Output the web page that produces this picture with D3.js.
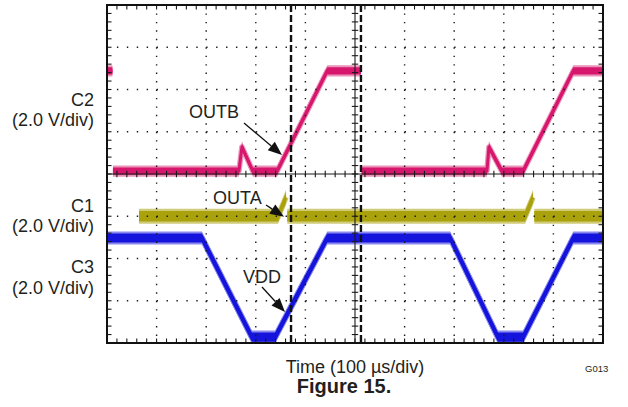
<!DOCTYPE html>
<html><head><meta charset="utf-8">
<script src="https://cdn.jsdelivr.net/npm/d3@7"></script>
<style>
body{margin:0;background:#fff}
svg{display:block}
text{font-family:"Liberation Sans",Arial,Helvetica,sans-serif;fill:#231f20}
</style>
</head><body>
<svg id="c" width="628" height="407"></svg>
<script>
// ---- settings / data ----
const timePerDiv = 100;          // µs/div
const voltsPerDiv = 2.0;         // V/div (all channels)
const nDivX = 10, nDivY = 8, minorPerDiv = 5;

// C2 : OUTB   (null = fast edge not captured by the scope)
const c2Time  = [0, 11, 11.5, 12, 266, 272, 294, 343, 444, 512, 512.8, 513.5, 766, 770, 796, 839, 940, 1000];
const c2Volts = [4.88, 4.88, null, 0.14, 0.14, 1.28, 0.14, 0.14, 4.88, 4.88, null, 0.14, 0.14, 1.28, 0.14, 0.14, 4.88, 4.88];
// C1 : OUTA
const c1Time  = [64.5, 345, 361, 362, 363.5, 843, 859, 860, 861.5, 1000];
const c1Volts = [0, 0, 0.89, null, 0, 0, 0.89, null, 0, 0];
// C3 : VDD
const c3Time  = [0, 191.5, 292, 339, 444, 692, 788, 839, 940, 1000];
const c3Volts = [4.97, 4.97, 0.28, 0.28, 4.97, 4.97, 0.28, 0.28, 4.97, 4.97];

// channel ground offsets in divisions from centre
const channelNames   = ["C2", "C1", "C3"];
const channelOffsets = [0, -1, -4];
const scaleLabel = "(2.0 V/div)";

// cursors (µs)
const cursorTimes = [371, 512];

// annotations: text anchor (µs, div), arrow start, arrow tip
const annoLabels = ["OUTB", "OUTA", "VDD"];
const annoText   = [[165.3, 1.325], [213.7, -0.71], [274.2, -2.58]];
const annoFrom   = [[276.2, 1.207], [320.6, -0.734], [312.5, -2.675]];
const annoTip    = [[352.8, 0.45], [356.9, -1.012], [358.9, -3.266]];

const xTitle = "Time (100 \u00b5s/div)";
const figTitle = "Figure 15.";
const figId = "G013";

// ---- drawing ----
const svg = d3.select("#c");
const L = 107, R = 603, T = 5, B = 343;
const x = d3.scaleLinear().domain([0, timePerDiv * nDivX]).range([L, R]);
const y = d3.scaleLinear().domain([-nDivY / 2, nDivY / 2]).range([B, T]);

svg.append("rect").attr("width", 628).attr("height", 407).attr("fill", "#fff");

const traces = [
  {t: c2Time, v: c2Volts, off: channelOffsets[0], col: "#d6176d", fuzz: "#eb93b9", hIn: 3.6, hOut: 5.6, lw: 3},
  {t: c1Time, v: c1Volts, off: channelOffsets[1], col: "#aaa20c", fuzz: "#d0cb78", hIn: 5.2, hOut: 7.6, lw: 3},
  {t: c3Time, v: c3Volts, off: channelOffsets[2], col: "#1414dc", fuzz: "#8a8aee", hIn: 4.6, hOut: 6.6, lw: 3.5}
];
const gTr = svg.append("g");
traces.forEach(tr => {
  const pts = tr.t.map((t, i) => [t, tr.v[i] == null ? null : tr.off + tr.v[i] / voltsPerDiv]);
  const def = d => d[1] != null;
  const aOut = d3.area().defined(def).x(d => x(d[0])).y0(d => y(d[1]) - tr.hOut).y1(d => y(d[1]) + tr.hOut);
  const aIn = d3.area().defined(def).x(d => x(d[0])).y0(d => y(d[1]) - tr.hIn).y1(d => y(d[1]) + tr.hIn);
  const ln = d3.line().defined(def).x(d => x(d[0])).y(d => y(d[1]));
  gTr.append("path").attr("d", aOut(pts)).attr("fill", tr.fuzz);
  gTr.append("path").attr("d", ln(pts)).attr("fill", "none").attr("stroke", tr.fuzz).attr("stroke-width", tr.lw + 2.5).attr("stroke-linejoin", "round");
  gTr.append("path").attr("d", aIn(pts)).attr("fill", tr.col);
  gTr.append("path").attr("d", ln(pts)).attr("fill", "none").attr("stroke", tr.col).attr("stroke-width", tr.lw).attr("stroke-linejoin", "round");
});

// graticule
const g = svg.append("g").attr("stroke", "#1a1a1a");
const dx = (R - L) / nDivX, dy = (B - T) / nDivY;
for (let i = 1; i < nDivX; i++) {
  if (i === nDivX / 2) continue;
  const xx = x(i * timePerDiv);
  g.append("line").attr("x1", xx).attr("x2", xx).attr("y1", T + dy / minorPerDiv).attr("y2", B)
    .attr("stroke-width", 1.4).attr("stroke-dasharray", `1.4,${dy / minorPerDiv - 1.4}`);
}
for (let j = 1; j < nDivY; j++) {
  if (j === nDivY / 2) continue;
  const yy = y(j - nDivY / 2);
  g.append("line").attr("y1", yy).attr("y2", yy).attr("x1", L + dx / minorPerDiv).attr("x2", R)
    .attr("stroke-width", 1.4).attr("stroke-dasharray", `1.4,${dx / minorPerDiv - 1.4}`);
}
// centre lines
const cx = x(timePerDiv * nDivX / 2), cy = y(0);
g.append("line").attr("x1", cx).attr("x2", cx).attr("y1", T).attr("y2", B).attr("stroke-width", 1.1);
g.append("line").attr("x1", L).attr("x2", R).attr("y1", cy).attr("y2", cy).attr("stroke-width", 1.1);
// minor ticks
const tk = 4.5, ctk = 3.2;
for (let k = 1; k < nDivX * minorPerDiv; k++) {
  const xx = L + k * dx / minorPerDiv;
  g.append("line").attr("x1", xx).attr("x2", xx).attr("y1", T).attr("y2", T + tk).attr("stroke-width", 1.1);
  g.append("line").attr("x1", xx).attr("x2", xx).attr("y1", B - tk).attr("y2", B).attr("stroke-width", 1.1);
  g.append("line").attr("x1", xx).attr("x2", xx).attr("y1", cy - ctk).attr("y2", cy + ctk).attr("stroke-width", 1.1);
}
for (let k = 1; k < nDivY * minorPerDiv; k++) {
  const yy = T + k * dy / minorPerDiv;
  g.append("line").attr("y1", yy).attr("y2", yy).attr("x1", L).attr("x2", L + tk).attr("stroke-width", 1.1);
  g.append("line").attr("y1", yy).attr("y2", yy).attr("x1", R - tk).attr("x2", R).attr("stroke-width", 1.1);
  g.append("line").attr("y1", yy).attr("y2", yy).attr("x1", cx - ctk).attr("x2", cx + ctk).attr("stroke-width", 1.1);
}
// frame
svg.append("rect").attr("x", L).attr("y", T).attr("width", R - L).attr("height", B - T)
  .attr("fill", "none").attr("stroke", "#111").attr("stroke-width", 2);

// cursors
cursorTimes.forEach(t => {
  svg.append("line").attr("x1", x(t)).attr("x2", x(t)).attr("y1", T).attr("y2", B)
    .attr("stroke", "#111").attr("stroke-width", 2.4).attr("stroke-dasharray", "7,3");
});

// annotations
annoLabels.forEach((lab, i) => {
  svg.append("text").attr("x", x(annoText[i][0])).attr("y", y(annoText[i][1]))
    .attr("font-size", 18).text(lab);
  const x1 = x(annoFrom[i][0]), y1 = y(annoFrom[i][1]);
  const x2 = x(annoTip[i][0]), y2 = y(annoTip[i][1]);
  const ang = Math.atan2(y2 - y1, x2 - x1);
  const hl = 14, hw = 5.5;
  const bx = x2 - hl * Math.cos(ang), by = y2 - hl * Math.sin(ang);
  svg.append("line").attr("x1", x1).attr("y1", y1).attr("x2", bx).attr("y2", by)
    .attr("stroke", "#111").attr("stroke-width", 1.3);
  const p = [[x2, y2],
    [bx + hw * Math.sin(ang), by - hw * Math.cos(ang)],
    [bx - hw * Math.sin(ang), by + hw * Math.cos(ang)]];
  svg.append("polygon").attr("points", p.map(q => q.join(",")).join(" ")).attr("fill", "#111");
});

// channel labels
const labBase = [[106, 126], [212, 232], [273, 294]];
channelNames.forEach((n, i) => {
  svg.append("text").attr("x", 94).attr("y", labBase[i][0]).attr("text-anchor", "end").attr("font-size", 18).text(n);
  svg.append("text").attr("x", 94).attr("y", labBase[i][1]).attr("text-anchor", "end").attr("font-size", 18).text(scaleLabel);
});

svg.append("text").attr("x", (L + R) / 2).attr("y", 373).attr("text-anchor", "middle").attr("font-size", 18).text(xTitle);
svg.append("text").attr("x", 344).attr("y", 393).attr("text-anchor", "middle").attr("font-size", 20).attr("font-weight", "bold").text(figTitle);
svg.append("text").attr("x", 585).attr("y", 372).attr("font-size", 9.5).text(figId);
</script>
</body></html>
